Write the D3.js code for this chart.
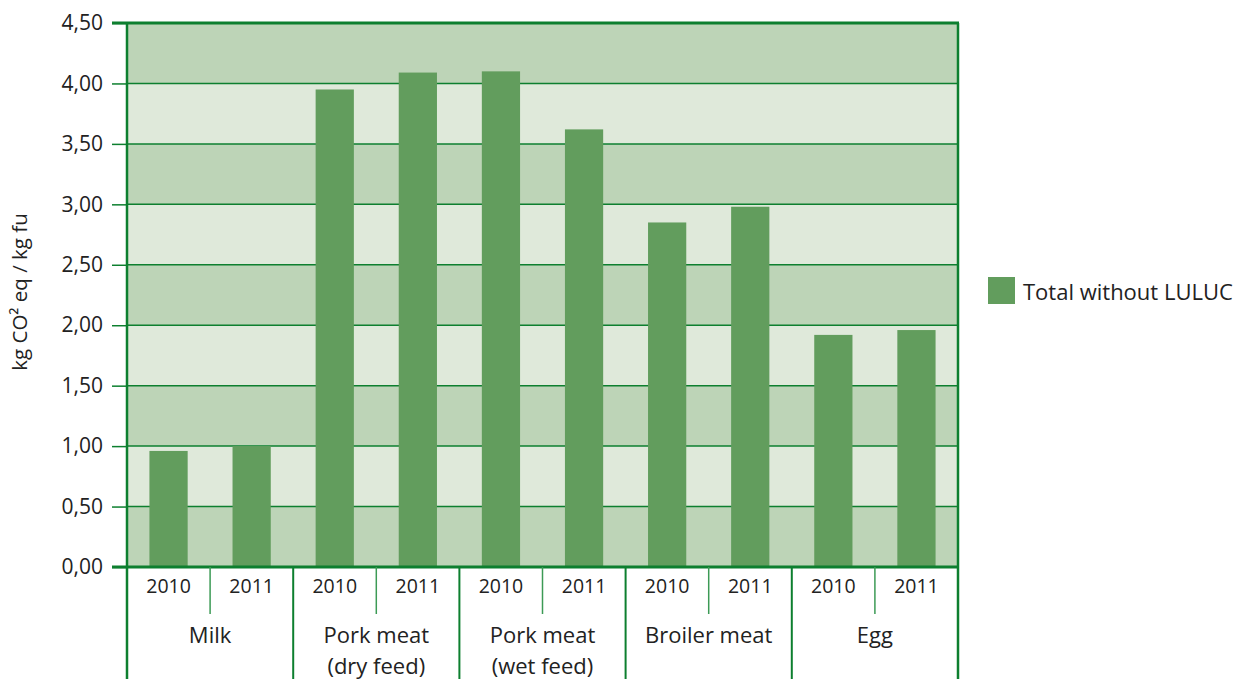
<!DOCTYPE html>
<html><head><meta charset="utf-8">
<script src="https://cdn.jsdelivr.net/npm/d3@7"></script>
<style>body{margin:0;background:#fff}svg{display:block}text{font-family:"Open Sans",sans-serif;fill:#222}</style>
</head><body><svg id="c" width="1240" height="679"></svg>
<script>
const categories = [["Milk"], ["Pork meat", "(dry feed)"], ["Pork meat", "(wet feed)"], ["Broiler meat"], ["Egg"]];
const years = ["2010", "2011"];
const values2010 = [0.96, 3.95, 4.10, 2.85, 1.92];
const values2011 = [1.00, 4.09, 3.62, 2.98, 1.96];
const yTicks = [0, 0.5, 1, 1.5, 2, 2.5, 3, 3.5, 4, 4.5];
const seriesName = "Total without LULUC";
const yTitle = "kg CO² eq / kg fu";

const svg = d3.select("#c");
const L = 127, R = 958, T = 23, B = 567, H = 679;
const barC = "#629d5d", darkC = "#bdd4b7", lightC = "#dfe9da", lineC = "#0d7f2f";
const catIdx = categories.map((d, i) => i);
const x0 = d3.scaleBand().domain(catIdx).range([L, R]);
const x1 = d3.scaleBand().domain(years).range([0, x0.bandwidth()]).paddingInner(0.54).paddingOuter(0.27);
const y = d3.scaleLinear().domain([0, 4.5]).range([B, T]);

// bands
svg.append("g").selectAll("rect").data(yTicks.slice(0, -1)).join("rect")
  .attr("x", L).attr("width", R - L)
  .attr("y", d => y(d + 0.5)).attr("height", d => y(d) - y(d + 0.5))
  .attr("fill", (d, i) => i % 2 === 0 ? darkC : lightC);

// gridlines
svg.append("g").selectAll("line").data(yTicks.slice(1, -1)).join("line")
  .attr("x1", L).attr("x2", R).attr("y1", d => y(d)).attr("y2", d => y(d))
  .attr("stroke", lineC).attr("stroke-width", 1.5);

// bars
const data = [];
catIdx.forEach(i => { data.push({c: i, yr: "2010", v: values2010[i]}); data.push({c: i, yr: "2011", v: values2011[i]}); });
svg.append("g").selectAll("rect").data(data).join("rect")
  .attr("x", d => x0(d.c) + x1(d.yr)).attr("width", x1.bandwidth())
  .attr("y", d => y(d.v)).attr("height", d => y(0) - y(d.v))
  .attr("fill", barC);

// y axis
const yAxis = d3.axisLeft(y).tickValues(yTicks).tickSize(15).tickPadding(9)
  .tickFormat(d => d3.format(".2f")(d).replace(".", ","));
const ga = svg.append("g").attr("transform", `translate(${L},0)`).call(yAxis);
ga.select(".domain").remove();
ga.selectAll(".tick line").attr("stroke", lineC).attr("stroke-width", 1.5);
ga.selectAll(".tick text").attr("font-size", 21).attr("fill", "#222").style("font-family", '"Open Sans",sans-serif');

// frame
svg.append("line").attr("x1", L - 15).attr("x2", R + 1).attr("y1", T).attr("y2", T).attr("stroke", lineC).attr("stroke-width", 3);
svg.append("line").attr("x1", L - 15).attr("x2", R + 1).attr("y1", B).attr("y2", B).attr("stroke", lineC).attr("stroke-width", 3);
// vertical group dividers
const divs = catIdx.map(i => x0(i)).concat([R]);
svg.append("g").selectAll("line").data(divs).join("line")
  .attr("x1", d => d).attr("x2", d => d).attr("y2", H)
  .attr("stroke", lineC).attr("stroke-width", (d, i) => (i === 0 || i === divs.length - 1) ? 2.5 : 2)
  .attr("y1", (d, i) => (i === 0 || i === divs.length - 1) ? T : B);
// sub dividers
svg.append("g").selectAll("line").data(catIdx).join("line")
  .attr("x1", d => x0(d) + x0.bandwidth() / 2).attr("x2", d => x0(d) + x0.bandwidth() / 2)
  .attr("y1", B).attr("y2", 614).attr("stroke", "#3c9a55").attr("stroke-width", 1.5);

// year labels
svg.append("g").selectAll("text").data(data).join("text")
  .attr("x", d => x0(d.c) + x1(d.yr) + x1.bandwidth() / 2).attr("y", 593)
  .attr("text-anchor", "middle").attr("font-size", 19.5).text(d => d.yr);

// category labels
const cg = svg.append("g").selectAll("text").data(categories).join("text")
  .attr("text-anchor", "middle").attr("font-size", 22);
cg.each(function(lines, i) {
  d3.select(this).selectAll("tspan").data(lines).join("tspan")
    .attr("x", x0(i) + x0.bandwidth() / 2).attr("y", (d, k) => 643 + k * 31).text(d => d);
});

// y title
svg.append("text").attr("transform", "translate(27,292) rotate(-90)")
  .attr("text-anchor", "middle").attr("font-size", 20.5).text(yTitle);

// legend
svg.append("rect").attr("x", 988).attr("y", 277).attr("width", 27).attr("height", 27).attr("fill", barC);
svg.append("text").attr("x", 1023).attr("y", 300).attr("font-size", 22).text(seriesName);
</script></body></html>
